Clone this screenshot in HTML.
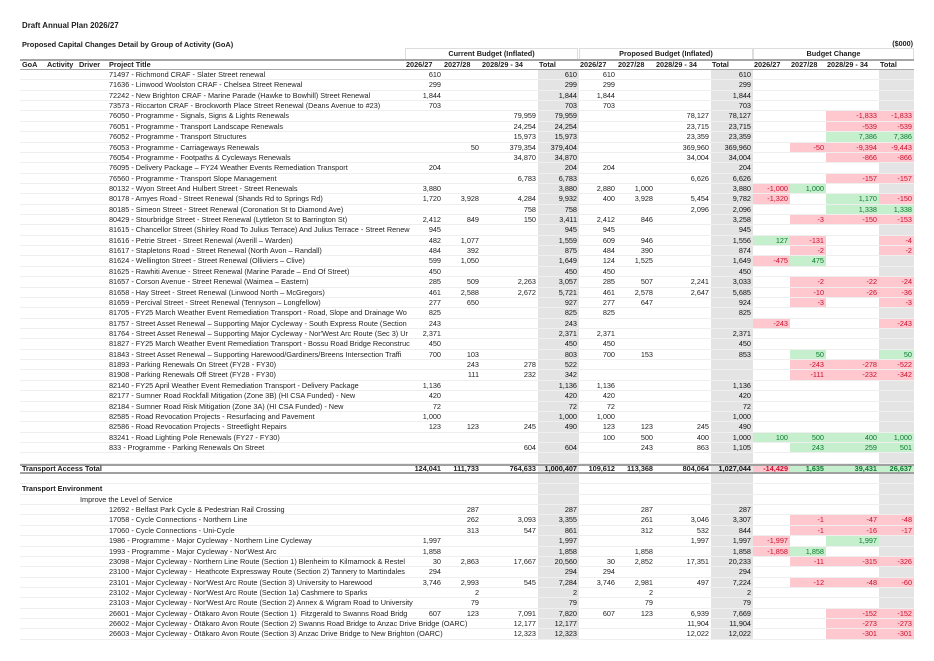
<!DOCTYPE html>
<html><head><meta charset="utf-8">
<style>
*{margin:0;padding:0;box-sizing:border-box}
body{width:934px;height:661px;background:#fff;position:relative;overflow:hidden;font-family:"Liberation Sans",Arial,sans-serif;color:#1e1e1e;font-size:7.3px}
.h1{position:absolute;left:22px;top:20.5px;font-weight:bold;font-size:7.9px}
.h2{position:absolute;left:22px;top:39.5px;font-weight:bold;font-size:7.4px}
.unit{position:absolute;right:21px;top:39px;font-weight:bold;font-size:7.2px}
.grp{position:absolute;top:48px;height:11px;border:1px solid #ddd;border-bottom:none;text-align:center;font-weight:bold;line-height:10px}
.hdr{position:absolute;left:20px;top:59px;width:894px;height:11px;border-top:2px solid #a6a6a6;border-bottom:1.5px solid #a6a6a6;display:flex;font-weight:bold;line-height:7.5px}
.hdr i{font-style:normal;display:block;padding-left:1px;white-space:nowrap}
#data{position:absolute;left:20px;top:70px;width:894px}
.r{height:10.37px;display:flex;line-height:10.37px}
.r i{font-style:normal;display:block;text-align:right;padding-right:2px;white-space:nowrap;border-bottom:1px solid #efefef;height:10.37px}
.r i:nth-child(1){width:385px;text-align:left;padding-left:89px;padding-right:0}
.r i:nth-child(2),.r i:nth-child(3),.r i:nth-child(6),.r i:nth-child(7){width:38px}
.r i:nth-child(4){width:57px}
.r i:nth-child(5){width:41px}
.r i:nth-child(8){width:56px}
.r i:nth-child(9){width:42px}
.r i:nth-child(10){width:37px}
.r i:nth-child(11){width:36px}
.r i:nth-child(12){width:53px}
.r i:nth-child(13){width:35px}
.r i:nth-child(5),.r i:nth-child(9),.r i:nth-child(13){background:#e4e4e4;color:#111}
.r i.n{background:#ffc7ce !important;color:#c8102e !important}
.r i.p{background:#c6efce !important;color:#0b7a2c !important}
.r.sec i:nth-child(1){padding-left:2px;font-weight:bold}
.r.sub i:nth-child(1){padding-left:60px}
.r.tot{font-weight:bold;border-top:2px solid #a0a0a0;border-bottom:2px solid #a0a0a0}
.r.tot i{height:auto;line-height:6.4px;border-bottom:none}
.r.tot i:nth-child(1){padding-left:2px}
</style></head><body>
<div class="h1">Draft Annual Plan 2026/27</div>
<div class="h2">Proposed Capital Changes Detail by Group of Activity (GoA)</div>
<div class="unit">($000)</div>
<div class="grp" style="left:405px;width:173px">Current Budget (Inflated)</div>
<div class="grp" style="left:579px;width:174px">Proposed Budget (Inflated)</div>
<div class="grp" style="left:753px;width:161px">Budget Change</div>
<div class="hdr">
<i style="width:26px;padding-left:2px">GoA</i><i style="width:32px">Activity</i><i style="width:29px">Driver</i><i style="width:298px;padding-left:2px">Project Title</i>
<i style="width:38px">2026/27</i><i style="width:38px">2027/28</i><i style="width:57px">2028/29 - 34</i><i style="width:41px">Total</i>
<i style="width:38px">2026/27</i><i style="width:38px">2027/28</i><i style="width:56px">2028/29 - 34</i><i style="width:42px">Total</i>
<i style="width:37px">2026/27</i><i style="width:36px">2027/28</i><i style="width:53px">2028/29 - 34</i><i style="width:35px">Total</i>
</div>
<div id="data">
<div class="r"><i>71497 - Richmond CRAF - Slater Street renewal</i><i>610</i><i></i><i></i><i>610</i><i>610</i><i></i><i></i><i>610</i><i></i><i></i><i></i><i></i></div>
<div class="r"><i>71636 - Linwood Woolston CRAF - Chelsea Street Renewal</i><i>299</i><i></i><i></i><i>299</i><i>299</i><i></i><i></i><i>299</i><i></i><i></i><i></i><i></i></div>
<div class="r"><i>72242 - New Brighton CRAF - Marine Parade (Hawke to Bowhill) Street Renewal</i><i>1,844</i><i></i><i></i><i>1,844</i><i>1,844</i><i></i><i></i><i>1,844</i><i></i><i></i><i></i><i></i></div>
<div class="r"><i>73573 - Riccarton CRAF - Brockworth Place Street Renewal (Deans Avenue to #23)</i><i>703</i><i></i><i></i><i>703</i><i>703</i><i></i><i></i><i>703</i><i></i><i></i><i></i><i></i></div>
<div class="r"><i>76050 - Programme - Signals, Signs &amp; Lights Renewals</i><i></i><i></i><i>79,959</i><i>79,959</i><i></i><i></i><i>78,127</i><i>78,127</i><i></i><i></i><i class="n">-1,833</i><i class="n">-1,833</i></div>
<div class="r"><i>76051 - Programme - Transport Landscape Renewals</i><i></i><i></i><i>24,254</i><i>24,254</i><i></i><i></i><i>23,715</i><i>23,715</i><i></i><i></i><i class="n">-539</i><i class="n">-539</i></div>
<div class="r"><i>76052 - Programme - Transport Structures</i><i></i><i></i><i>15,973</i><i>15,973</i><i></i><i></i><i>23,359</i><i>23,359</i><i></i><i></i><i class="p">7,386</i><i class="p">7,386</i></div>
<div class="r"><i>76053 - Programme - Carriageways Renewals</i><i></i><i>50</i><i>379,354</i><i>379,404</i><i></i><i></i><i>369,960</i><i>369,960</i><i></i><i class="n">-50</i><i class="n">-9,394</i><i class="n">-9,443</i></div>
<div class="r"><i>76054 - Programme - Footpaths &amp; Cycleways Renewals</i><i></i><i></i><i>34,870</i><i>34,870</i><i></i><i></i><i>34,004</i><i>34,004</i><i></i><i></i><i class="n">-866</i><i class="n">-866</i></div>
<div class="r"><i>76095 - Delivery Package – FY24 Weather Events Remediation Transport</i><i>204</i><i></i><i></i><i>204</i><i>204</i><i></i><i></i><i>204</i><i></i><i></i><i></i><i></i></div>
<div class="r"><i>76560 - Programme - Transport Slope Management</i><i></i><i></i><i>6,783</i><i>6,783</i><i></i><i></i><i>6,626</i><i>6,626</i><i></i><i></i><i class="n">-157</i><i class="n">-157</i></div>
<div class="r"><i>80132 - Wyon Street And Hulbert Street - Street Renewals</i><i>3,880</i><i></i><i></i><i>3,880</i><i>2,880</i><i>1,000</i><i></i><i>3,880</i><i class="n">-1,000</i><i class="p">1,000</i><i></i><i></i></div>
<div class="r"><i>80178 - Amyes Road - Street Renewal (Shands Rd to Springs Rd)</i><i>1,720</i><i>3,928</i><i>4,284</i><i>9,932</i><i>400</i><i>3,928</i><i>5,454</i><i>9,782</i><i class="n">-1,320</i><i></i><i class="p">1,170</i><i class="n">-150</i></div>
<div class="r"><i>80185 - Simeon Street - Street Renewal (Coronation St to Diamond Ave)</i><i></i><i></i><i>758</i><i>758</i><i></i><i></i><i>2,096</i><i>2,096</i><i></i><i></i><i class="p">1,338</i><i class="p">1,338</i></div>
<div class="r"><i>80429 - Stourbridge Street - Street Renewal (Lyttleton St to Barrington St)</i><i>2,412</i><i>849</i><i>150</i><i>3,411</i><i>2,412</i><i>846</i><i></i><i>3,258</i><i></i><i class="n">-3</i><i class="n">-150</i><i class="n">-153</i></div>
<div class="r"><i>81615 - Chancellor Street (Shirley Road To Julius Terrace) And Julius Terrace - Street Renew</i><i>945</i><i></i><i></i><i>945</i><i>945</i><i></i><i></i><i>945</i><i></i><i></i><i></i><i></i></div>
<div class="r"><i>81616 - Petrie Street - Street Renewal (Averill – Warden)</i><i>482</i><i>1,077</i><i></i><i>1,559</i><i>609</i><i>946</i><i></i><i>1,556</i><i class="p">127</i><i class="n">-131</i><i></i><i class="n">-4</i></div>
<div class="r"><i>81617 - Stapletons Road - Street Renewal (North Avon – Randall)</i><i>484</i><i>392</i><i></i><i>875</i><i>484</i><i>390</i><i></i><i>874</i><i></i><i class="n">-2</i><i></i><i class="n">-2</i></div>
<div class="r"><i>81624 - Wellington Street - Street Renewal (Olliviers – Clive)</i><i>599</i><i>1,050</i><i></i><i>1,649</i><i>124</i><i>1,525</i><i></i><i>1,649</i><i class="n">-475</i><i class="p">475</i><i></i><i></i></div>
<div class="r"><i>81625 - Rawhiti Avenue - Street Renewal (Marine Parade – End Of Street)</i><i>450</i><i></i><i></i><i>450</i><i>450</i><i></i><i></i><i>450</i><i></i><i></i><i></i><i></i></div>
<div class="r"><i>81657 - Corson Avenue - Street Renewal (Waimea – Eastern)</i><i>285</i><i>509</i><i>2,263</i><i>3,057</i><i>285</i><i>507</i><i>2,241</i><i>3,033</i><i></i><i class="n">-2</i><i class="n">-22</i><i class="n">-24</i></div>
<div class="r"><i>81658 - Hay Street - Street Renewal (Linwood North – McGregors)</i><i>461</i><i>2,588</i><i>2,672</i><i>5,721</i><i>461</i><i>2,578</i><i>2,647</i><i>5,685</i><i></i><i class="n">-10</i><i class="n">-26</i><i class="n">-36</i></div>
<div class="r"><i>81659 - Percival Street - Street Renewal (Tennyson – Longfellow)</i><i>277</i><i>650</i><i></i><i>927</i><i>277</i><i>647</i><i></i><i>924</i><i></i><i class="n">-3</i><i></i><i class="n">-3</i></div>
<div class="r"><i>81705 - FY25 March Weather Event Remediation Transport - Road, Slope and Drainage Wo</i><i>825</i><i></i><i></i><i>825</i><i>825</i><i></i><i></i><i>825</i><i></i><i></i><i></i><i></i></div>
<div class="r"><i>81757 - Street Asset Renewal – Supporting Major Cycleway - South Express Route (Section</i><i>243</i><i></i><i></i><i>243</i><i></i><i></i><i></i><i></i><i class="n">-243</i><i></i><i></i><i class="n">-243</i></div>
<div class="r"><i>81764 - Street Asset Renewal – Supporting Major Cycleway - Nor'West Arc Route (Sec 3) Ur</i><i>2,371</i><i></i><i></i><i>2,371</i><i>2,371</i><i></i><i></i><i>2,371</i><i></i><i></i><i></i><i></i></div>
<div class="r"><i>81827 - FY25 March Weather Event Remediation Transport - Bossu Road Bridge Reconstruc</i><i>450</i><i></i><i></i><i>450</i><i>450</i><i></i><i></i><i>450</i><i></i><i></i><i></i><i></i></div>
<div class="r"><i>81843 - Street Asset Renewal – Supporting Harewood/Gardiners/Breens Intersection Traffi</i><i>700</i><i>103</i><i></i><i>803</i><i>700</i><i>153</i><i></i><i>853</i><i></i><i class="p">50</i><i></i><i class="p">50</i></div>
<div class="r"><i>81893 - Parking Renewals On Street (FY28 - FY30)</i><i></i><i>243</i><i>278</i><i>522</i><i></i><i></i><i></i><i></i><i></i><i class="n">-243</i><i class="n">-278</i><i class="n">-522</i></div>
<div class="r"><i>81908 - Parking Renewals Off Street (FY28 - FY30)</i><i></i><i>111</i><i>232</i><i>342</i><i></i><i></i><i></i><i></i><i></i><i class="n">-111</i><i class="n">-232</i><i class="n">-342</i></div>
<div class="r"><i>82140 - FY25 April Weather Event Remediation Transport - Delivery Package</i><i>1,136</i><i></i><i></i><i>1,136</i><i>1,136</i><i></i><i></i><i>1,136</i><i></i><i></i><i></i><i></i></div>
<div class="r"><i>82177 - Sumner Road Rockfall Mitigation (Zone 3B) (HI CSA Funded) - New</i><i>420</i><i></i><i></i><i>420</i><i>420</i><i></i><i></i><i>420</i><i></i><i></i><i></i><i></i></div>
<div class="r"><i>82184 - Sumner Road Risk Mitigation (Zone 3A) (HI CSA Funded) - New</i><i>72</i><i></i><i></i><i>72</i><i>72</i><i></i><i></i><i>72</i><i></i><i></i><i></i><i></i></div>
<div class="r"><i>82585 - Road Revocation Projects - Resurfacing and Pavement</i><i>1,000</i><i></i><i></i><i>1,000</i><i>1,000</i><i></i><i></i><i>1,000</i><i></i><i></i><i></i><i></i></div>
<div class="r"><i>82586 - Road Revocation Projects - Streetlight Repairs</i><i>123</i><i>123</i><i>245</i><i>490</i><i>123</i><i>123</i><i>245</i><i>490</i><i></i><i></i><i></i><i></i></div>
<div class="r"><i>83241 - Road Lighting Pole Renewals (FY27 - FY30)</i><i></i><i></i><i></i><i></i><i>100</i><i>500</i><i>400</i><i>1,000</i><i class="p">100</i><i class="p">500</i><i class="p">400</i><i class="p">1,000</i></div>
<div class="r"><i>833 - Programme - Parking Renewals On Street</i><i></i><i></i><i>604</i><i>604</i><i></i><i>243</i><i>863</i><i>1,105</i><i></i><i class="p">243</i><i class="p">259</i><i class="p">501</i></div>
<div class="r"><i></i><i></i><i></i><i></i><i></i><i></i><i></i><i></i><i></i><i></i><i></i><i></i><i></i></div>
<div class="r tot"><i>Transport Access Total</i><i>124,041</i><i>111,733</i><i>764,633</i><i>1,000,407</i><i>109,612</i><i>113,368</i><i>804,064</i><i>1,027,044</i><i class="n">-14,429</i><i class="p">1,635</i><i class="p">39,431</i><i class="p">26,637</i></div>
<div class="r"><i></i><i></i><i></i><i></i><i></i><i></i><i></i><i></i><i></i><i></i><i></i><i></i><i></i></div>
<div class="r sec"><i>Transport Environment</i><i></i><i></i><i></i><i></i><i></i><i></i><i></i><i></i><i></i><i></i><i></i><i></i></div>
<div class="r sub"><i>Improve the Level of Service</i><i></i><i></i><i></i><i></i><i></i><i></i><i></i><i></i><i></i><i></i><i></i><i></i></div>
<div class="r"><i>12692 - Belfast Park Cycle &amp; Pedestrian Rail Crossing</i><i></i><i>287</i><i></i><i>287</i><i></i><i>287</i><i></i><i>287</i><i></i><i></i><i></i><i></i></div>
<div class="r"><i>17058 - Cycle Connections - Northern Line</i><i></i><i>262</i><i>3,093</i><i>3,355</i><i></i><i>261</i><i>3,046</i><i>3,307</i><i></i><i class="n">-1</i><i class="n">-47</i><i class="n">-48</i></div>
<div class="r"><i>17060 - Cycle Connections - Uni-Cycle</i><i></i><i>313</i><i>547</i><i>861</i><i></i><i>312</i><i>532</i><i>844</i><i></i><i class="n">-1</i><i class="n">-16</i><i class="n">-17</i></div>
<div class="r"><i>1986 - Programme - Major Cycleway - Northern Line Cycleway</i><i>1,997</i><i></i><i></i><i>1,997</i><i></i><i></i><i>1,997</i><i>1,997</i><i class="n">-1,997</i><i></i><i class="p">1,997</i><i></i></div>
<div class="r"><i>1993 - Programme - Major Cycleway - Nor'West Arc</i><i>1,858</i><i></i><i></i><i>1,858</i><i></i><i>1,858</i><i></i><i>1,858</i><i class="n">-1,858</i><i class="p">1,858</i><i></i><i></i></div>
<div class="r"><i>23098 - Major Cycleway - Northern Line Route (Section 1) Blenheim to Kilmarnock &amp; Restel</i><i>30</i><i>2,863</i><i>17,667</i><i>20,560</i><i>30</i><i>2,852</i><i>17,351</i><i>20,233</i><i></i><i class="n">-11</i><i class="n">-315</i><i class="n">-326</i></div>
<div class="r"><i>23100 - Major Cycleway -&nbsp; Heathcote Expressway Route (Section 2) Tannery to Martindales</i><i>294</i><i></i><i></i><i>294</i><i>294</i><i></i><i></i><i>294</i><i></i><i></i><i></i><i></i></div>
<div class="r"><i>23101 - Major Cycleway - Nor'West Arc Route (Section 3) University to Harewood</i><i>3,746</i><i>2,993</i><i>545</i><i>7,284</i><i>3,746</i><i>2,981</i><i>497</i><i>7,224</i><i></i><i class="n">-12</i><i class="n">-48</i><i class="n">-60</i></div>
<div class="r"><i>23102 - Major Cycleway - Nor'West Arc Route (Section 1a) Cashmere to Sparks</i><i></i><i>2</i><i></i><i>2</i><i></i><i>2</i><i></i><i>2</i><i></i><i></i><i></i><i></i></div>
<div class="r"><i>23103 - Major Cycleway - Nor'West Arc Route (Section 2) Annex &amp; Wigram Road to University</i><i></i><i>79</i><i></i><i>79</i><i></i><i>79</i><i></i><i>79</i><i></i><i></i><i></i><i></i></div>
<div class="r"><i>26601 - Major Cycleway - Ōtākaro Avon Route (Section 1)&nbsp; Fitzgerald to Swanns Road Bridg</i><i>607</i><i>123</i><i>7,091</i><i>7,820</i><i>607</i><i>123</i><i>6,939</i><i>7,669</i><i></i><i></i><i class="n">-152</i><i class="n">-152</i></div>
<div class="r"><i>26602 - Major Cycleway - Ōtākaro Avon Route (Section 2) Swanns Road Bridge to Anzac Drive Bridge (OARC)</i><i></i><i></i><i>12,177</i><i>12,177</i><i></i><i></i><i>11,904</i><i>11,904</i><i></i><i></i><i class="n">-273</i><i class="n">-273</i></div>
<div class="r"><i>26603 - Major Cycleway - Ōtākaro Avon Route (Section 3) Anzac Drive Bridge to New Brighton (OARC)</i><i></i><i></i><i>12,323</i><i>12,323</i><i></i><i></i><i>12,022</i><i>12,022</i><i></i><i></i><i class="n">-301</i><i class="n">-301</i></div>
</div>
</body></html>
